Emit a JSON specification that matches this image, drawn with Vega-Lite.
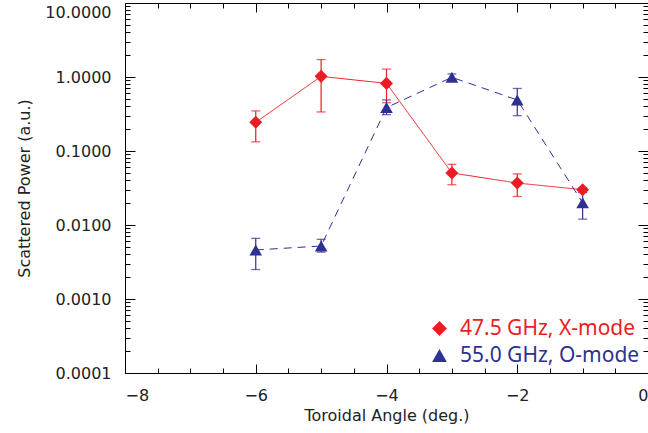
{
  "$schema": "https://vega.github.io/schema/vega-lite/v6.json",
  "autosize": "none",
  "width": 523,
  "height": 370,
  "padding": {"left": 125, "top": 3, "right": 0, "bottom": 60},
  "background": "white",
  "config": {
    "view": {"stroke": null},
    "axis": {"grid": false, "domainColor": "#000", "domainWidth": 1, "tickColor": "#000", "tickWidth": 1, "labelFont": "DejaVu Sans", "labelFontSize": 16, "labelColor": "#222", "titleFont": "DejaVu Sans", "titleFontSize": 16, "titleFontWeight": "normal", "titleColor": "#222"},
    "legend": {"orient": "none", "title": null, "labelFont": "Noto Sans", "labelFontSize": 21, "symbolSize": 220, "labelOffset": 10, "labelLimit": 400, "symbolStrokeWidth": 0}
  },
  "data": {"values": [
    {"angle": -6, "power": 0.244, "lo": 0.133, "hi": 0.348, "series": "47.5 GHz, X-mode"},
    {"angle": -5, "power": 1.02, "lo": 0.337, "hi": 1.72, "series": "47.5 GHz, X-mode"},
    {"angle": -4, "power": 0.82, "lo": 0.45, "hi": 1.28, "series": "47.5 GHz, X-mode"},
    {"angle": -3, "power": 0.0505, "lo": 0.035, "hi": 0.066, "series": "47.5 GHz, X-mode"},
    {"angle": -2, "power": 0.0369, "lo": 0.0243, "hi": 0.049, "series": "47.5 GHz, X-mode"},
    {"angle": -1, "power": 0.030, "lo": 0.028, "hi": 0.032, "series": "47.5 GHz, X-mode"},
    {"angle": -6, "power": 0.0046, "lo": 0.0025, "hi": 0.0066, "series": "55.0 GHz, O-mode"},
    {"angle": -5, "power": 0.0052, "lo": 0.0043, "hi": 0.0064, "series": "55.0 GHz, O-mode"},
    {"angle": -4, "power": 0.386, "lo": 0.31, "hi": 0.49, "series": "55.0 GHz, O-mode"},
    {"angle": -3, "power": 0.99, "lo": 0.92, "hi": 1.1, "series": "55.0 GHz, O-mode"},
    {"angle": -2, "power": 0.49, "lo": 0.30, "hi": 0.70, "series": "55.0 GHz, O-mode"},
    {"angle": -1, "power": 0.020, "lo": 0.012, "hi": 0.0275, "series": "55.0 GHz, O-mode"}
  ]},
  "resolve": {"axis": {"x": "independent", "y": "independent"}, "legend": {"color": "independent"}},
  "layer": [
    {
      "mark": {"type": "line", "strokeWidth": 1},
      "encoding": {
        "x": {"field": "angle", "type": "quantitative", "scale": {"domain": [-8, 0], "nice": false},
          "axis": {"orient": "bottom", "values": [-8, -6, -4, -2, 0], "tickSize": -9, "labelPadding": 23, "title": "Toroidal Angle (deg.)", "titlePadding": 4, "labelExpr": "replace(datum.label, '-', '\u2212')"}},
        "y": {"field": "power", "type": "quantitative", "scale": {"type": "log", "domain": [0.0001, 10], "nice": false},
          "axis": {"orient": "left", "values": [0.0001, 0.001, 0.01, 0.1, 1, 10], "format": ".4f", "tickSize": -10, "labelPadding": 24, "labelOffset": {"condition": {"test": "datum.value >= 10", "value": 9}, "value": 0}, "title": "Scattered Power (a.u.)", "titlePadding": 12}},
        "color": {"field": "series", "type": "nominal", "scale": {"domain": ["47.5 GHz, X-mode", "55.0 GHz, O-mode"], "range": ["#ED1C24", "#2E3192"]}, "legend": null},
        "strokeDash": {"field": "series", "type": "nominal", "scale": {"domain": ["47.5 GHz, X-mode", "55.0 GHz, O-mode"], "range": [[1, 0], [8, 6]]}, "legend": null}
      }
    },
    {
      "mark": {"type": "rule", "strokeWidth": 1.2},
      "encoding": {
        "x": {"field": "angle", "type": "quantitative", "scale": {"domain": [-8, 0], "nice": false},
          "axis": {"orient": "bottom", "values": [-7.5, -7, -6.5, -5.5, -5, -4.5, -3.5, -3, -2.5, -1.5, -1, -0.5], "tickSize": -5, "labels": false, "domain": false, "title": null}},
        "y": {"field": "lo", "type": "quantitative", "scale": {"type": "log", "domain": [0.0001, 10], "nice": false},
          "axis": {"orient": "left", "values": [0.0002,0.0003,0.0004,0.0005,0.0006,0.0007,0.0008,0.0009,0.002,0.003,0.004,0.005,0.006,0.007,0.008,0.009,0.02,0.03,0.04,0.05,0.06,0.07,0.08,0.09,0.2,0.3,0.4,0.5,0.6,0.7,0.8,0.9,2,3,4,5,6,7,8,9], "tickSize": -5, "labels": false, "domain": false, "title": null}},
        "y2": {"field": "hi"},
        "color": {"field": "series", "type": "nominal", "legend": null}
      }
    },
    {
      "mark": {"type": "tick", "orient": "horizontal", "size": 9, "thickness": 1.3},
      "encoding": {
        "x": {"field": "angle", "type": "quantitative", "scale": {"domain": [-8, 0], "nice": false},
          "axis": {"orient": "top", "values": [-8, -6, -4, -2, 0], "tickSize": -9, "labels": false, "title": null}},
        "y": {"field": "lo", "type": "quantitative", "scale": {"type": "log", "domain": [0.0001, 10], "nice": false},
          "axis": {"orient": "right", "values": [0.0001, 0.001, 0.01, 0.1, 1, 10], "tickSize": -10, "labels": false, "title": null}},
        "color": {"field": "series", "type": "nominal", "legend": null}
      }
    },
    {
      "mark": {"type": "tick", "orient": "horizontal", "size": 9, "thickness": 1.3},
      "encoding": {
        "x": {"field": "angle", "type": "quantitative", "scale": {"domain": [-8, 0], "nice": false},
          "axis": {"orient": "top", "values": [-7.5, -7, -6.5, -5.5, -5, -4.5, -3.5, -3, -2.5, -1.5, -1, -0.5], "tickSize": -5, "labels": false, "domain": false, "title": null}},
        "y": {"field": "hi", "type": "quantitative", "scale": {"type": "log", "domain": [0.0001, 10], "nice": false},
          "axis": {"orient": "right", "values": [0.0002,0.0003,0.0004,0.0005,0.0006,0.0007,0.0008,0.0009,0.002,0.003,0.004,0.005,0.006,0.007,0.008,0.009,0.02,0.03,0.04,0.05,0.06,0.07,0.08,0.09,0.2,0.3,0.4,0.5,0.6,0.7,0.8,0.9,2,3,4,5,6,7,8,9], "tickSize": -5, "labels": false, "domain": false, "title": null}},
        "color": {"field": "series", "type": "nominal", "legend": null}
      }
    },
    {
      "transform": [{"filter": "datum.series == '47.5 GHz, X-mode'"}],
      "mark": {"type": "point", "shape": "diamond", "filled": true, "opacity": 1, "size": 170},
      "encoding": {
        "x": {"field": "angle", "type": "quantitative", "scale": {"domain": [-8, 0], "nice": false}, "axis": null},
        "y": {"field": "power", "type": "quantitative", "scale": {"type": "log", "domain": [0.0001, 10], "nice": false}, "axis": null},
        "color": {"field": "series", "type": "nominal",
          "legend": {"values": ["47.5 GHz, X-mode"], "legendX": 304, "legendY": 315, "symbolType": "diamond", "labelColor": "#ED1C24", "symbolFillColor": "#ED1C24"}}
      }
    },
    {
      "transform": [{"filter": "datum.series == '55.0 GHz, O-mode'"}],
      "mark": {"type": "point", "shape": "triangle-up", "filled": true, "opacity": 1, "size": 160},
      "encoding": {
        "x": {"field": "angle", "type": "quantitative", "scale": {"domain": [-8, 0], "nice": false}, "axis": null},
        "y": {"field": "power", "type": "quantitative", "scale": {"type": "log", "domain": [0.0001, 10], "nice": false}, "axis": null},
        "color": {"field": "series", "type": "nominal",
          "legend": {"values": ["55.0 GHz, O-mode"], "legendX": 304, "legendY": 342, "symbolType": "triangle-up", "labelColor": "#2E3192", "symbolFillColor": "#2E3192"}}
      }
    }
  ]
}
